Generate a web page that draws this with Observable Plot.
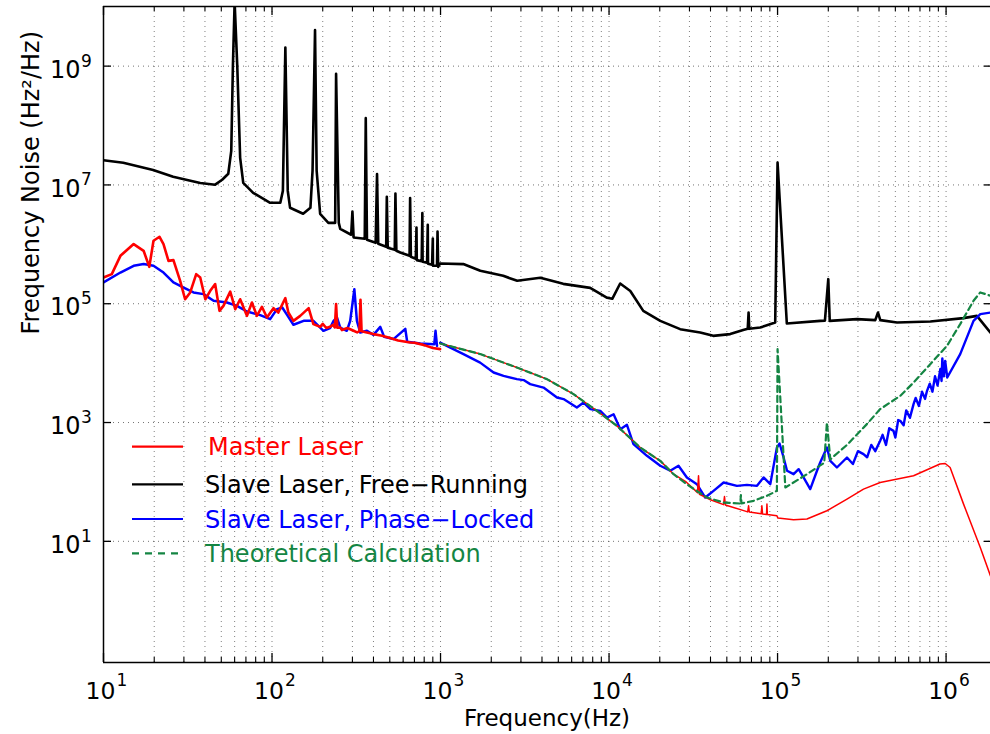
<!DOCTYPE html>
<html>
<head>
<meta charset="utf-8">
<script src="https://cdn.jsdelivr.net/npm/d3@7"></script>
<script src="https://cdn.jsdelivr.net/npm/@observablehq/plot@0.6"></script>
<style>
  html, body { margin: 0; padding: 0; background: #fff; }
  #wrap { position: relative; width: 990px; height: 734px; overflow: hidden; font-family: "DejaVu Sans", sans-serif; }
  #legend { position: absolute; left: 0; top: 0; pointer-events: none; }
</style>
</head>
<body>
<div id="wrap"></div>
<script>
// ---------- data (frequency in Hz, noise in Hz^2/Hz) ----------
const slaveFreeRunning = [
  [10,2.61e7],[13.1,2.36e7],[19.7,1.79e7],[25.9,1.37e7],[37.5,1.08e7],[46.0,1.01e7],[50.6,1.22e7],[55.0,1.54e7],
  [57.3,3.75e7],[58.6,1e9],[60,1.2e10],[62.2,1e9],[64.7,2.86e7],[67.5,1.08e7],[77.3,7.36e6],[97.5,5.0e6],
  [112,5.0e6],[116,7.94e6],[120,2.06e9],[124,7.94e6],[128,4.12e6],[153,3.27e6],[169,4.12e6],[174,1.74e7],
  [180,4.04e9],[184,1.74e7],[193,3.27e6],[216,2.30e6],[237,2.30e6],[240,7.41e8],[249,2.30e6],[254,1.82e6],
  [295,1.45e6],[300,3.56e6],[305,1.30e6],[355,1.24e6],[360,1.33e8],[366,1.19e6],[412,1.06e6],[420,1.52e7],
  [427,1.02e6],[476,9.08e5],[480,6.31e6],[486,8.73e5],[535,8.07e5],[540,7.16e6],[547,7.78e5],[577,7.28e5],
  [655,6.40e5],[660,6.0e6],[667,6.17e5],[713,5.70e5],[720,1.92e6],[723,5.42e5],[773,5.18e5],[780,3.35e6],
  [783,5.07e5],[832,4.89e5],[840,2.13e6],[843,4.70e5],[891,4.52e5],[900,1.25e6],[902,4.35e5],[953,4.35e5],
  [960,1.64e6],[968,4.18e5],[995,4.75e5],[1365,4.65e5],[1722,3.58e5],[2355,2.95e5],[2851,2.43e5],[3908,2.73e5],
  [5346,2.16e5],[7727,1.85e5],[9750,1.26e5],[10450,1.21e5],[11640,2.19e5],[13370,1.64e5],[15960,7.59e4],
  [20140,5.15e4],[26420,3.73e4],[34750,3.27e4],[41500,2.88e4],[52360,3.08e4],[62520,3.60e4],[66530,3.78e4],
  [67300,7.13e4],[67920,3.78e4],[78890,3.97e4],[96830,4.82e4],[100000,2.38e7],[113500,4.65e4],[179100,5.15e4],
  [191000,5.2e4],[200000,2.59e5],[204000,5.15e4],[295800,5.51e4],[380000,5.3e4],[394500,7.11e4],[407000,5.3e4],
  [511700,4.82e4],[807000,5.01e4],[1268000,5.73e4],[1524000,6.25e4],[1835000,3.27e4]
];

const masterLow = [
  [10,2.76e5],[11.2,3.15e5],[12.6,6.40e5],[15.1,1.01e6],[17.3,7.78e5],[18.7,4.18e5],[19.8,1.15e6],[21.5,1.34e6],
  [22.7,1.01e6],[24.3,5.27e5],[26.0,5.42e5],[28.5,2.43e5],[30.5,1.19e5],[32.7,1.55e5],[35.5,3.15e5],[37.5,2.76e5],
  [40.2,1.19e5],[43.0,1.65e5],[46.0,2.14e5],[48.8,7.59e4],[51.5,9.22e4],[56.5,1.60e5],[60.5,8.11e4],[64.7,1.19e5],
  [71.0,6.25e4],[76.0,1.05e5],[81.3,6.25e4],[87.1,8.87e4],[93.3,5.86e4],[102,8.43e4],[109,7.11e4],[120,1.24e5],
  [125,7.11e4],[134,5.15e4],[147,6.25e4],[165,8.43e4],[176,4.54e4],[193,4.08e4],[200,4.6e4],[210,3.9e4],
  [221,4.08e4],[230,4.4e4],[236,4.0e4],[240,9.84e4],[244,3.95e4],[254,3.97e4],[260,3.6e4],[280,3.9e4],
  [305,3.50e4],[320,3.3e4],[330,3.45e4],[335,1.17e5],[340,3.45e4],[360,3.3e4],[400,3.08e4],[450,2.9e4],
  [502,2.64e4],[560,2.4e4],[661,2.22e4],[700,2.2e4],[792,2.03e4],[900,1.8e4],[995,1.72e4]
];

const masterHigh = [
  [995,2.14e4],[1722,1.42e4],[2838,8.43e3],[4276,5.38e3],[6152,3.01e3],[8472,1.57e3],[11140,879],[15310,379],
  [20140,226],[24150,135],[28700,100],[33500,66],[33960,127],[34400,62],[40000,50],[47800,41.5],[48420,56.8],
  [49000,41],[66500,31.3],[67300,39.6],[68000,31.2],[80000,29],[80700,39.6],[81500,28.8],[86000,28.3],
  [86500,42.3],[87000,28.2],[99100,26.9],[100500,24.6],[124500,23.0],[149400,23.7],[196300,32.7],[258200,51.3],
  [323600,75.6],[406400,97.7],[641200,127],[920000,200],[988000,204],[1057000,175],[1270000,42.3],
  [1596000,7.87],[1835000,2.62]
];

const slaveLockedLow = [
  [10,2.28e5],[12.6,3.35e5],[15.1,4.35e5],[17.3,4.65e5],[19.8,4.35e5],[22.7,3.35e5],[26.0,2.28e5],[29.9,1.87e5],
  [34.2,1.55e5],[39.2,1.45e5],[45.0,1.12e5],[54.0,1.05e5],[61.9,9.22e4],[71.0,7.40e4],[85.1,6.43e4],[97.5,5.51e4],
  [107,8.11e4],[115,8.63e4],[122,6.68e4],[134,4.42e4],[154,5.15e4],[176,5.15e4],[202,3.50e4],[221,3.88e4],
  [232,5.15e4],[243,5.86e4],[254,3.97e4],[278,3.50e4],[291,5.15e4],[308,1.76e5],[319,5.15e4],[334,3.27e4],
  [366,3.50e4],[400,2.99e4],[439,4.08e4],[463,2.77e4],[526,2.54e4],[618,3.78e4],[634,2.29e4],[759,2.14e4],
  [918,2.07e4],[934,3.50e4],[953,1.95e4]
];

const slaveLockedHigh = [
  [995,2.21e4],[1368,1.42e4],[1718,1.02e4],[2065,6.95e3],[2366,6.11e3],[2838,5.38e3],[3112,5.18e3],[3404,4.43e3],
  [4083,3.88e3],[4909,2.64e3],[5370,2.48e3],[6442,1.79e3],[7063,2.17e3],[7745,1.68e3],[8872,1.57e3],[9727,1.21e3],
  [10640,1.38e3],[11670,774],[12770,914],[13960,433],[16790,275],[20140,187],[23070,154],[25830,187],[28970,119],
  [33230,91.8],[37240,54.6],[41690,70.8],[47860,97.7],[57410,85.9],[65770,89.3],[75510,85.9],[82600,119],
  [90570,91.8],[99100,379],[102800,443],[108600,258],[113800,154],[124500,135],[133400,164],[142600,119],
  [156300,75.7],[171400,154],[179100,212],[196300,379],[205600,226],[225000,175],[258200,258],[280000,200],
  [300000,330],[323600,294],[340000,260],[360000,420],[380000,330],[406400,492],[420000,620],[440000,420],
  [460000,800],[487500,724],[500000,560],[520000,1100],[534600,1069],[560000,900],[580000,1600],[610000,1200],
  [641200,2042],[660000,2600],[690000,1900],[720000,3300],[750000,2500],[770900,3420],[800000,4500],[830000,3300],
  [860000,6000],[890000,4200],[925000,8000],[940000,5000],[950000,1.2e4],[970000,6000],[988000,1.09e4],
  [1016000,5.73e3],[1213000,1.42e4],[1455000,5.15e4],[1596000,6.68e4],[1835000,7.11e4]
];

const theoretical = [
  [995,2.14e4],[1722,1.42e4],[2838,8.43e3],[4276,5.38e3],[6152,3.01e3],[8472,1.57e3],[11140,879],[15310,379],
  [20140,226],[24150,135],[30000,85],[38110,54.6],[47860,45.0],[60120,43.3],[60600,60],[61100,43.5],[72110,48.1],
  [86500,58.3],[99100,70.8],[100000,1.72e4],[111200,80.5],[149400,135],[189200,210],[196300,1000],[205600,240],
  [258200,420],[338800,940],[406400,1683],[534600,2812],[641200,4710],[805400,9616],[1012000,1.95e4],
  [1213000,4.54e4],[1455000,1.12e5],[1596000,1.55e5],[1835000,1.36e5]
];

// axis tick values
const xLabelTicks = [1e1, 1e2, 1e3, 1e4, 1e5, 1e6];
const yLabelTicks = [1e1, 1e3, 1e5, 1e7, 1e9];
const legendLabels = ["Master Laser", "Slave Laser, Free\u2212Running", "Slave Laser, Phase\u2212Locked", "Theoretical Calculation"];
const legendColors = ["#ff0000", "#000000", "#0000ff", "#148543"];

// ---------- scales ----------
const X_MIN = 10, X_MAX = 1.835e6, Y_MIN = 0.0912, Y_MAX = 1.009e10;
const PX_PER_DEC_X = 168.5, PX_PER_DEC_Y = 59.4;
const fx = px => Math.pow(10, px / PX_PER_DEC_X);
const fy = px => Math.pow(10, px / PX_PER_DEC_Y);

const xMinor = [];
for (let k = 1; k <= 6; k++) for (let m = 2; m <= 9; m++) { const v = m * Math.pow(10, k); if (v < X_MAX) xMinor.push(v); }
const xGrid = xLabelTicks.concat(xMinor);

const rows = arr => arr.map(([f, n]) => ({f, n}));
const lineOpts = (stroke, w, extra = {}) => ({x: "f", y: "n", stroke, strokeWidth: w, clip: true, strokeLinejoin: "round", ...extra});
const expo = d => String(Math.round(Math.log10(d)));

const chart = Plot.plot({
  width: 990,
  height: 734,
  marginLeft: 103,
  marginRight: 0,
  marginTop: 6,
  marginBottom: 72,
  x: {type: "log", domain: [X_MIN, X_MAX], axis: null},
  y: {type: "log", domain: [Y_MIN, Y_MAX], axis: null},
  style: {fontFamily: "DejaVu Sans, sans-serif", background: "#fff", color: "#000", overflow: "visible"},
  marks: [
    // grid
    Plot.ruleX(xGrid, {x: d => d, y1: Y_MIN, y2: Y_MAX, stroke: "#000", strokeOpacity: 0.5, strokeDasharray: "1,4"}),
    Plot.ruleY(yLabelTicks, {y: d => d, x1: X_MIN, x2: X_MAX, stroke: "#000", strokeOpacity: 0.55, strokeDasharray: "1,4"}),
    // data
    Plot.line(rows(slaveFreeRunning), lineOpts("#000000", 2.6)),
    Plot.line(rows(slaveLockedLow), lineOpts("#0000ff", 2.5)),
    Plot.line(rows(slaveLockedHigh), lineOpts("#0000ff", 2.4)),
    Plot.line(rows(masterLow), lineOpts("#ff0000", 2.6)),
    Plot.line(rows(masterHigh), lineOpts("#ff0000", 1.5)),
    Plot.line(rows(theoretical), lineOpts("#148543", 2.2, {strokeDasharray: "6,4"})),
    // frame (left, top, bottom)
    Plot.ruleX([X_MIN], {y1: Y_MIN, y2: Y_MAX, stroke: "#000", strokeWidth: 1.5}),
    Plot.ruleY([Y_MIN, Y_MAX], {x1: X_MIN, x2: X_MAX, stroke: "#000", strokeWidth: 1.5}),
    // inward ticks, bottom and top
    Plot.ruleX(xLabelTicks, {x: d => d, y1: Y_MIN, y2: Y_MIN * fy(9), stroke: "#000", strokeWidth: 1.3}),
    Plot.ruleX(xMinor, {x: d => d, y1: Y_MIN, y2: Y_MIN * fy(5), stroke: "#000", strokeWidth: 1.1}),
    Plot.ruleX(xLabelTicks, {x: d => d, y1: Y_MAX, y2: Y_MAX / fy(9), stroke: "#000", strokeWidth: 1.3}),
    Plot.ruleX(xMinor, {x: d => d, y1: Y_MAX, y2: Y_MAX / fy(5), stroke: "#000", strokeWidth: 1.1}),
    // inward ticks, left and right
    Plot.ruleY(yLabelTicks, {y: d => d, x1: X_MIN, x2: X_MIN * fx(8), stroke: "#000", strokeWidth: 1.3}),
    Plot.ruleY(yLabelTicks, {y: d => d, x1: X_MAX / fx(6), x2: X_MAX, stroke: "#000", strokeWidth: 1.3}),
    // tick labels x
    Plot.text(xLabelTicks, {x: d => d, y: Y_MIN, text: () => "10", textAnchor: "end", lineAnchor: "middle", dx: 12, dy: 28.5, fontSize: 23.5}),
    Plot.text(xLabelTicks, {x: d => d, y: Y_MIN, text: expo, textAnchor: "start", lineAnchor: "middle", dx: 13, dy: 18, fontSize: 17}),
    // tick labels y
    Plot.text(yLabelTicks, {x: X_MIN, y: d => d, text: () => "10", textAnchor: "end", lineAnchor: "middle", dx: -23, dy: 4, fontSize: 24}),
    Plot.text(yLabelTicks, {x: X_MIN, y: d => d, text: expo, textAnchor: "start", lineAnchor: "middle", dx: -22.5, dy: -5, fontSize: 17}),
    // axis titles
    Plot.text(["Frequency(Hz)"], {frameAnchor: "bottom", lineAnchor: "middle", text: d => d, dy: 56.5, fontSize: 23}),
    Plot.text(["Frequency Noise (Hz\u00B2/Hz)"], {frameAnchor: "left", lineAnchor: "middle", text: d => d, rotate: -90, dx: -72.5, fontSize: 24})
  ]
});

const wrap = document.getElementById("wrap");
wrap.appendChild(chart);

// legend overlay
const leg = d3.select(wrap).append("svg").attr("id", "legend").attr("width", 990).attr("height", 734);
const legRowY = [446.7, 484.3, 519, 553.3];
legendLabels.forEach((label, i) => {
  const y = legRowY[i];
  leg.append("line").attr("x1", 132).attr("x2", 183).attr("y1", y).attr("y2", y)
    .attr("stroke", legendColors[i]).attr("stroke-width", 2.2)
    .attr("stroke-dasharray", i === 3 ? "7,6" : null);
  leg.append("text").attr("x", i === 0 ? 208 : 205).attr("y", y + 8.5)
    .attr("fill", legendColors[i]).attr("font-size", 24)
    .attr("font-family", "DejaVu Sans, sans-serif").text(label);
});
</script>
</body>
</html>
